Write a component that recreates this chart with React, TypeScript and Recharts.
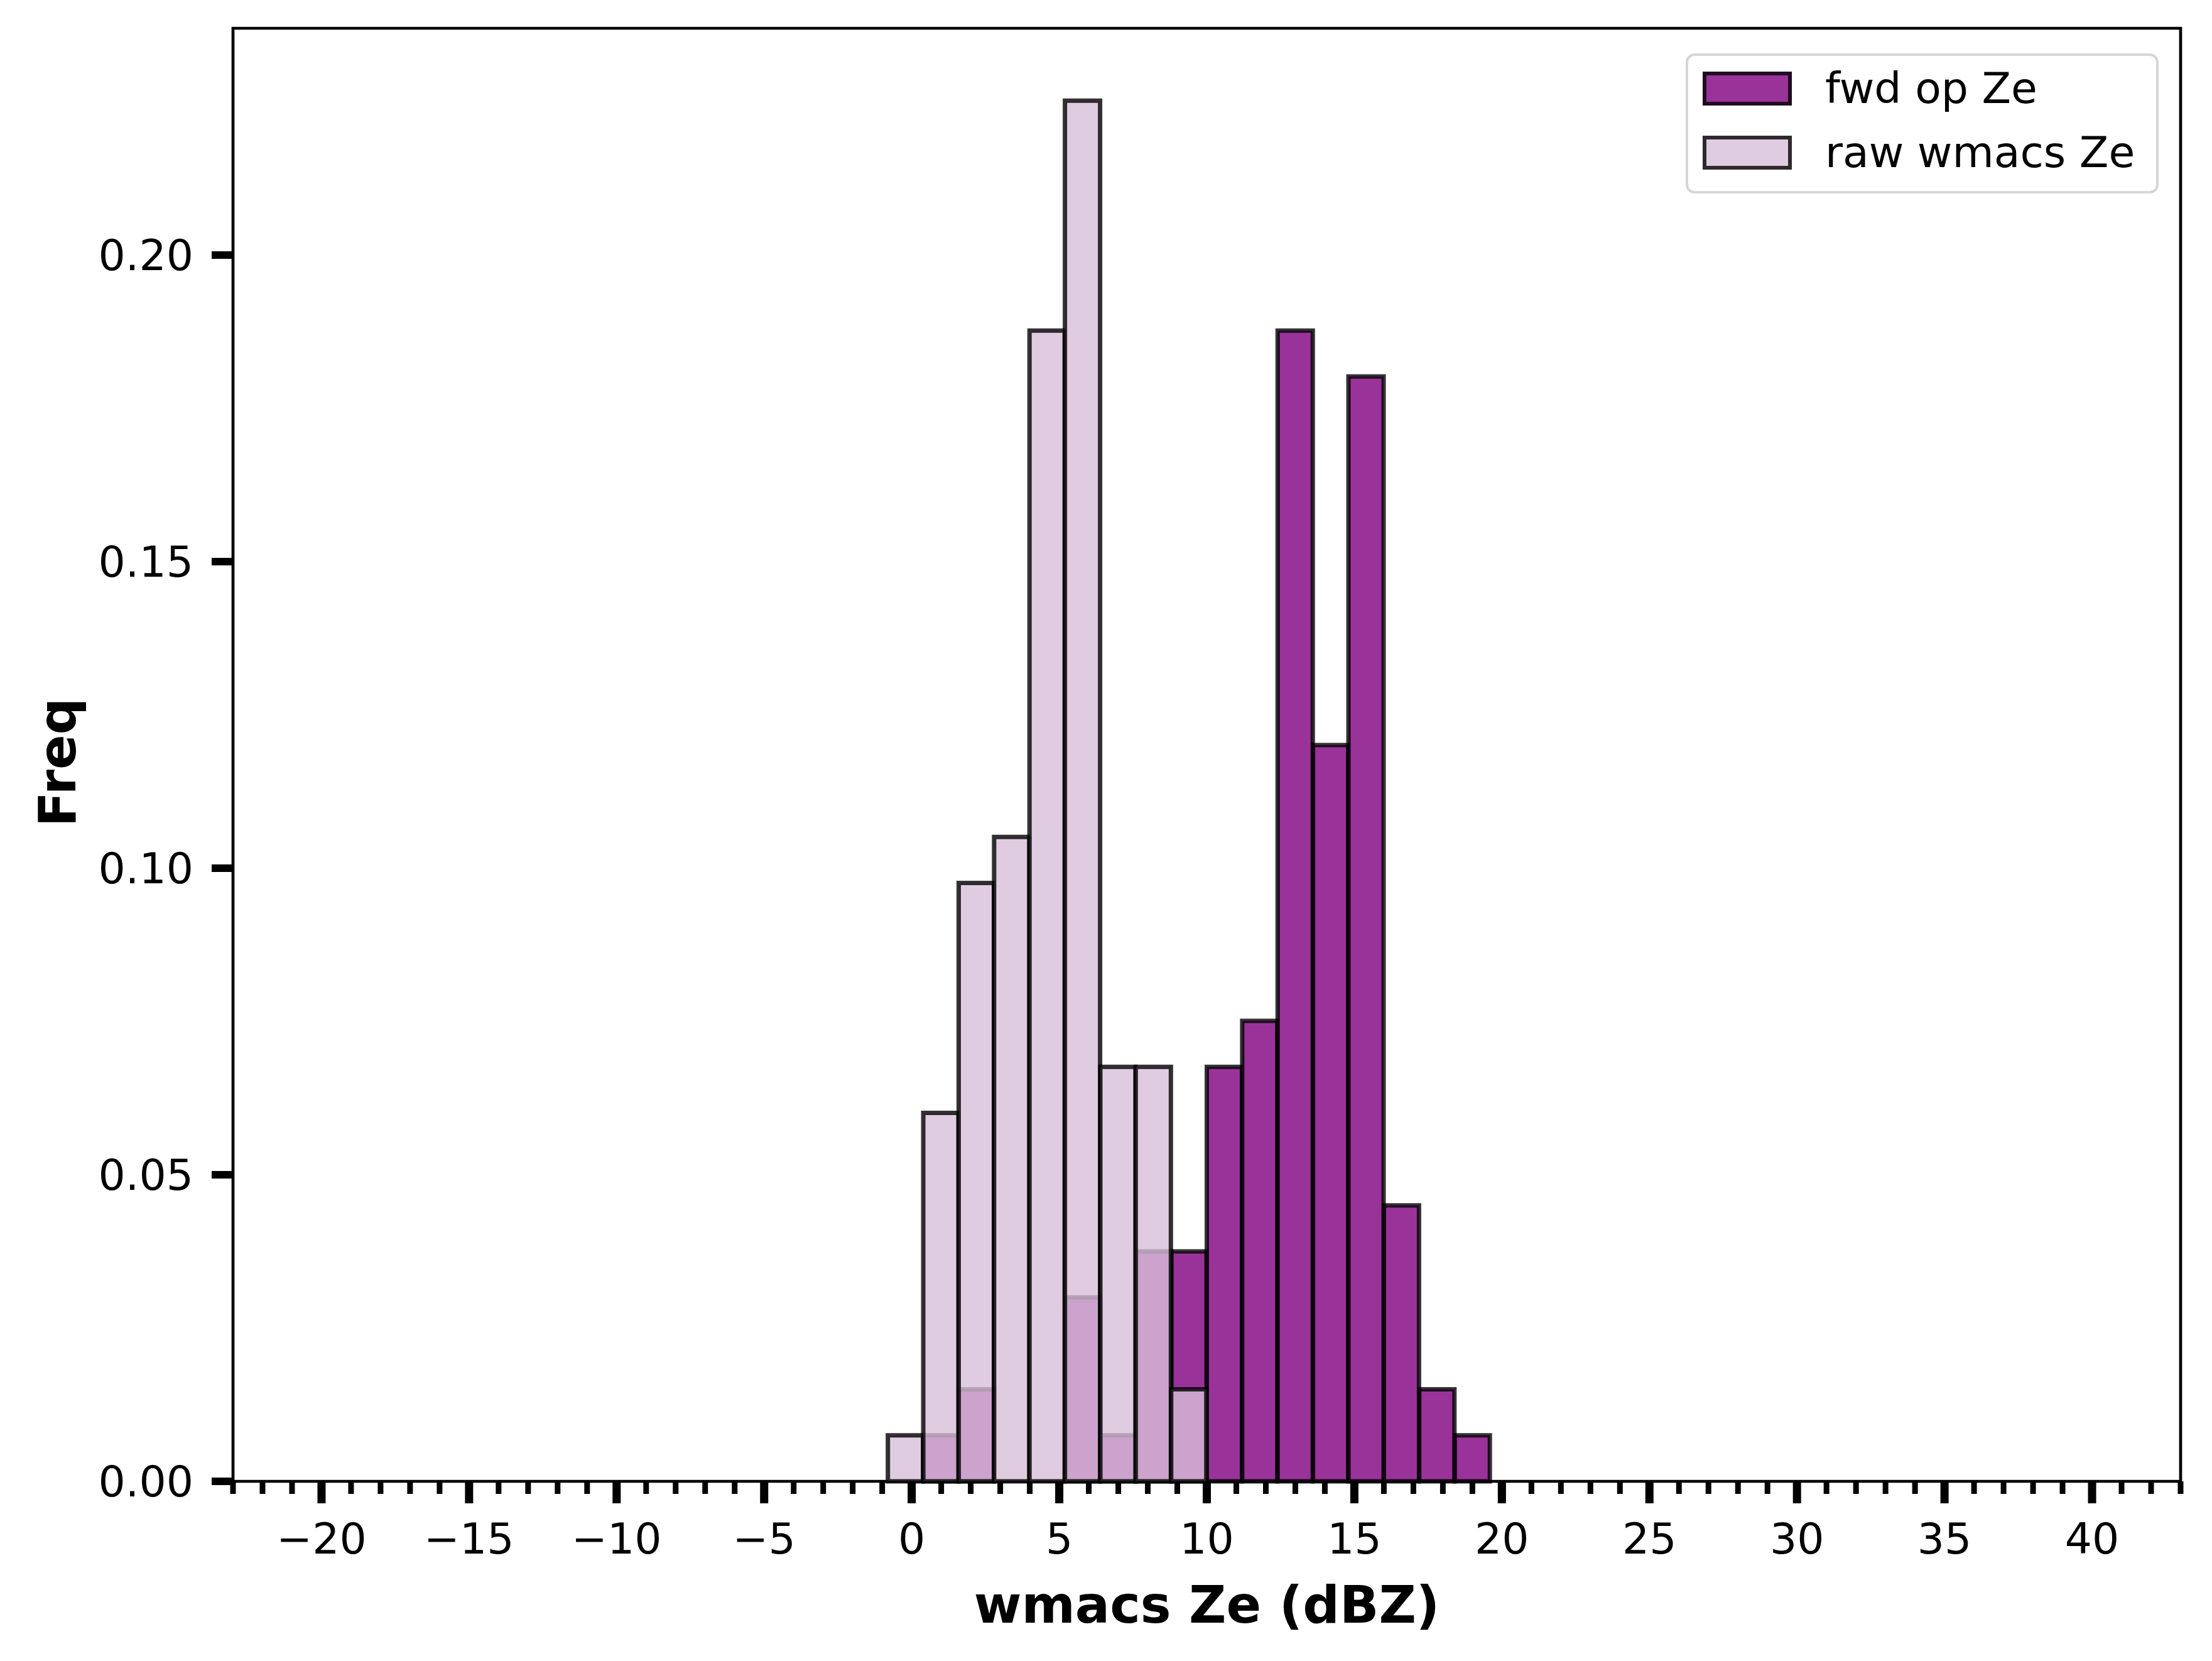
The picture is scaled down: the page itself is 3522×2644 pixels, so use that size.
import React from "react"
import { ComposedChart, Bar, XAxis, YAxis, ReferenceArea, Legend } from "recharts"

// histogram bins (width 1.2 dBZ), density values
const binCenters = [-0.2, 1.0, 2.2, 3.4, 4.6, 5.8, 7.0, 8.2, 9.4, 10.6, 11.8, 13.0, 14.2, 15.4, 16.6, 17.8, 19.0]
const fwdOpZe = [0, 0.0075, 0.015, 0, 0, 0.03, 0.0075, 0.0375, 0.0375, 0.0676, 0.0751, 0.1877, 0.1201, 0.1802, 0.045, 0.015, 0.0075]
const rawWmacsZe = [0.0075, 0.0601, 0.0976, 0.1051, 0.1877, 0.2252, 0.0676, 0.0676, 0.015, 0, 0, 0, 0, 0, 0, 0, 0]

const xMajorTicks = [-20, -15, -10, -5, 0, 5, 10, 15, 20, 25, 30, 35, 40]
const xMinorTicks = Array.from({ length: 67 }, (_, i) => i - 23)
const yTicks = [0, 0.05, 0.1, 0.15, 0.2]

const xDomain = [-23, 43]
const yMax = 0.237

const data = binCenters.map((x, i) => ({ x, fwd: fwdOpZe[i], raw: rawWmacsZe[i] }))

const font = "DejaVu Sans"
const fwdFill = "rgba(128,0,128,0.8)"
const rawFill = "rgba(216,191,216,0.8)"
const edge = "rgba(0,0,0,0.8)"

const fmtX = (v: number) => (v < 0 ? `\u2212${Math.abs(v)}` : `${v}`)

const XTick = (props: any) => {
  const { x, y, payload } = props
  const v = payload.value
  const major = xMajorTicks.includes(v)
  return (
    <g>
      <line x1={x} x2={x} y1={y} y2={y + (major ? 35 : 20)} stroke="#000" strokeWidth={major ? 13 : 9} />
      {major && (
        <text x={x} y={y + 115} textAnchor="middle" fontSize={68} fontFamily={font} fill="#000">
          {fmtX(v)}
        </text>
      )}
    </g>
  )
}

const legendItems = [
  { name: "fwd op Ze", fill: fwdFill },
  { name: "raw wmacs Ze", fill: rawFill },
]

const LegendBox = () => (
  <div
    style={{
      position: "relative",
      width: 753,
      height: 223,
      boxSizing: "border-box",
      background: "rgba(255,255,255,0.8)",
      border: "4px solid #d6d6d6",
      borderRadius: 14,
      fontFamily: font,
    }}
  >
    {legendItems.map((item, i) => (
      <div
        key={item.name}
        style={{
          position: "absolute",
          left: 23,
          top: 26 + i * 102,
          height: 52,
          display: "flex",
          alignItems: "center",
        }}
      >
        <div
          style={{
            width: 142,
            height: 54,
            boxSizing: "border-box",
            background: item.fill,
            border: `6px solid ${edge}`,
          }}
        />
        <span style={{ marginLeft: 53, fontSize: 68, color: "#000", whiteSpace: "nowrap", lineHeight: 1 }}>
          {item.name}
        </span>
      </div>
    ))}
  </div>
)

export default function App() {
  return (
    <div>
      <style>{`body{margin:0;background:#fff}`}</style>
      <ComposedChart
        width={3522}
        height={2644}
        data={data}
        margin={{ top: 45, right: 50, left: 0, bottom: 0 }}
        barGap="-100%"
        barCategoryGap={0}
      >
        <XAxis
          dataKey="x"
          type="number"
          domain={xDomain}
          ticks={xMinorTicks}
          interval={0}
          height={286}
          tickSize={0}
          tickMargin={0}
          tickLine={false}
          axisLine={false}
          tick={<XTick />}
          label={{
            value: "wmacs Ze (dBZ)",
            position: "center",
            dy: 53,
            fontSize: 82,
            fontWeight: "bold",
            fill: "#000",
            fontFamily: font,
          }}
        />
        <YAxis
          type="number"
          domain={[0, yMax]}
          ticks={yTicks}
          width={371}
          tickSize={34}
          tickMargin={29}
          axisLine={false}
          tickLine={{ stroke: "#000", strokeWidth: 12 }}
          tickFormatter={(v: number) => v.toFixed(2)}
          tick={{ fontSize: 68, fill: "#000", fontFamily: font }}
          label={{
            value: "Freq",
            angle: -90,
            position: "center",
            dx: -95,
            dy: 12,
            fontSize: 82,
            fontWeight: "bold",
            fill: "#000",
            fontFamily: font,
          }}
        />
        <Bar dataKey="fwd" name="fwd op Ze" fill={fwdFill} stroke={edge} strokeWidth={7} isAnimationActive={false} />
        <Bar dataKey="raw" name="raw wmacs Ze" fill={rawFill} stroke={edge} strokeWidth={7} isAnimationActive={false} />
        <ReferenceArea
          x1={xDomain[0]}
          x2={xDomain[1]}
          y1={0}
          y2={yMax}
          fill="none"
          fillOpacity={0}
          stroke="#000"
          strokeWidth={4.7}
          ifOverflow="visible"
        />
        <Legend
          layout="vertical"
          align="center"
          verticalAlign="middle"
          wrapperStyle={{ left: 2684, top: 85, width: 753, height: 223 }}
          content={() => <LegendBox />}
        />
      </ComposedChart>
    </div>
  )
}
